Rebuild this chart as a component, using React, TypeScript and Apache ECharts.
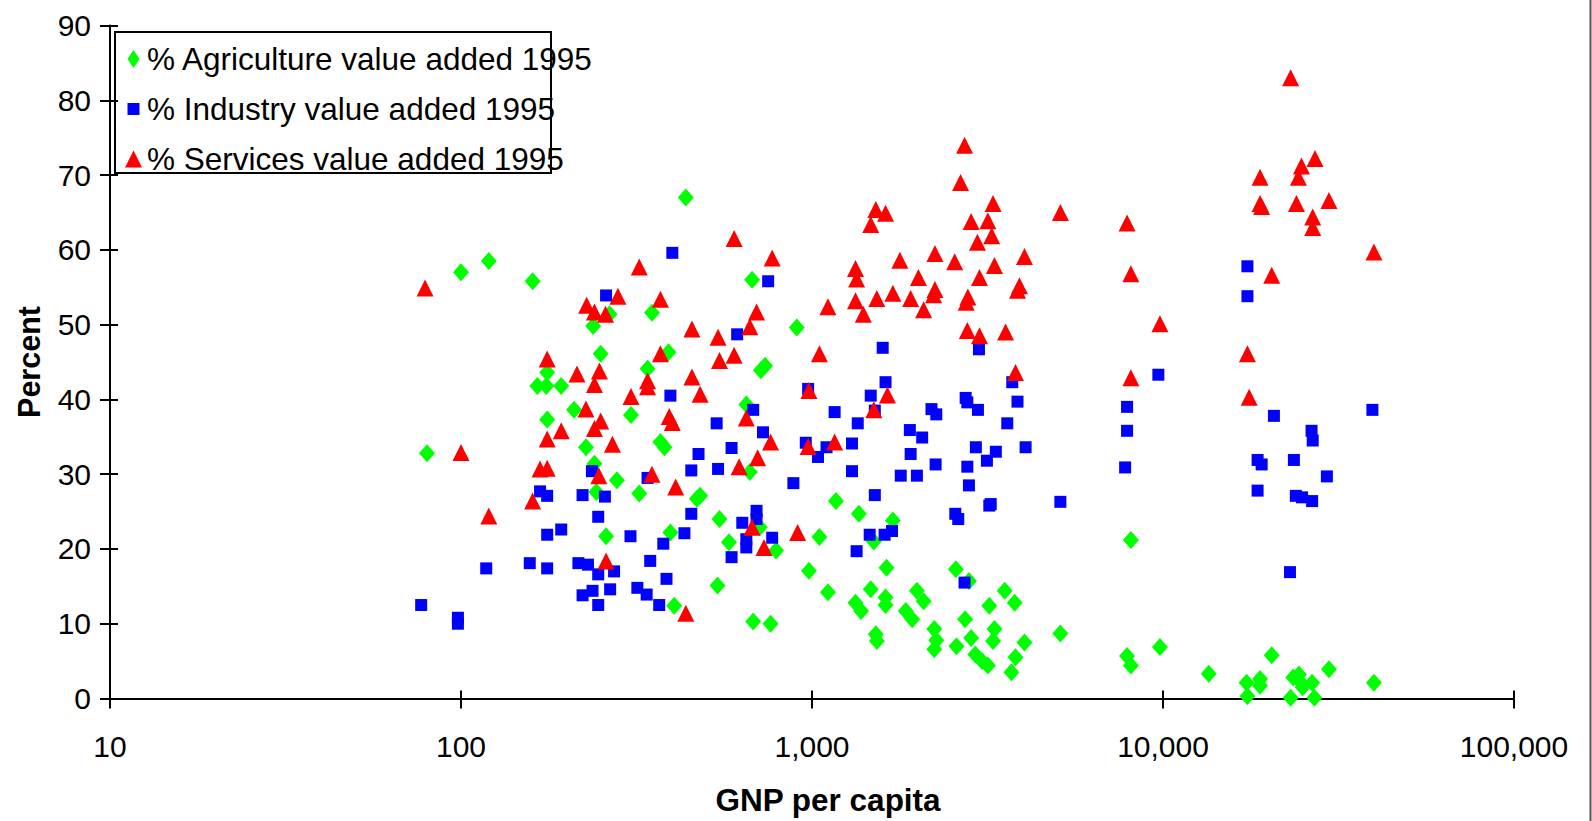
import React, { useEffect, useRef } from "react";
import * as echarts from "echarts";

const seriesNames = [
  "% Agriculture value added 1995",
  "% Industry value added 1995",
  "% Services value added 1995",
];
const xAxisTitle = "GNP per capita";
const yAxisTitle = "Percent";

// [GNP per capita (US$), percent of GDP]
const agriculture: [number, number][] = [
  [80, 32.8], [100, 57], [120, 58.5], [160, 55.8], [165, 41.8], [175, 41.8], [176, 43.6], [176, 37.3],
  [193, 41.8], [210, 38.6], [227, 33.6], [238, 49.8], [240, 31.4], [243, 27.6], [250, 46.1], [259, 21.7],
  [265, 51.4], [278, 29.2], [305, 37.9], [322, 27.4], [340, 44.1], [350, 51.6], [370, 34.3], [380, 33.6],
  [390, 46.3], [395, 22.2], [405, 12.4], [437, 67], [470, 26.7], [480, 27.1], [538, 15.1], [545, 24],
  [580, 20.9], [650, 39.3], [665, 30.3], [675, 56], [680, 10.3], [710, 22.9], [715, 43.9], [735, 44.5],
  [762, 10], [790, 19.8], [905, 49.6], [980, 17.1], [1050, 21.6], [1110, 14.2], [1170, 26.4], [1330, 12.8],
  [1360, 24.7], [1380, 11.7], [1470, 14.6], [1500, 21], [1520, 8.6], [1530, 7.7], [1620, 13.5], [1620, 12.5],
  [1630, 17.5], [1700, 23.8], [1850, 11.7], [1930, 10.6], [1990, 14.4], [2080, 13], [2230, 9.3], [2260, 7.8],
  [2230, 6.6], [2570, 17.3], [2580, 7], [2730, 10.6], [2800, 15.7], [2840, 8.1], [2920, 5.9], [3050, 5],
  [3170, 4.4], [3200, 12.4], [3280, 7.7], [3310, 9.3], [3540, 14.4], [3700, 3.5], [3780, 12.8], [3800, 5.5],
  [4030, 7.5], [5100, 8.7], [7900, 5.7], [8100, 4.4], [8100, 21.2], [9800, 6.9], [13500, 3.3], [17300, 2.1],
  [17400, 0.3], [18900, 2.6], [18900, 1.7], [20400, 5.8], [23100, 0.1], [23500, 2.8], [24400, 3.2], [24700, 2.1],
  [25000, 1.5], [26600, 2.1], [27000, 0.1], [29700, 3.9], [39900, 2.1],
];

const industry: [number, number][] = [
  [77, 12.5], [98, 10.8], [98, 10.0], [118, 17.4], [157, 18.1], [168, 27.7], [176, 27.1], [176, 21.9],
  [176, 17.4], [193, 22.6], [216, 18.1], [222, 27.2], [222, 13.8], [230, 17.9], [236, 30.4], [237, 14.4],
  [246, 24.3], [246, 12.5], [246, 16.6], [257, 27], [259, 53.9], [266, 14.6], [273, 17], [304, 21.7],
  [318, 14.8], [338, 13.9], [340, 29.5], [346, 18.4], [367, 12.5], [377, 20.7], [385, 16], [395, 40.5],
  [400, 59.6], [433, 22.1], [453, 24.7], [453, 30.5], [475, 32.7], [535, 36.8], [540, 30.7], [590, 33.5],
  [590, 18.9], [612, 48.7], [633, 23.5], [650, 20.2], [650, 21.3], [680, 38.6], [695, 25.1], [695, 24],
  [725, 35.6], [750, 55.8], [770, 21.5], [885, 28.8], [960, 34.2], [975, 41.4], [1040, 32.3], [1100, 33.6],
  [1160, 38.3], [1300, 34.1], [1300, 30.4], [1340, 19.7], [1350, 36.8], [1460, 21.9], [1470, 40.5], [1510, 38.5],
  [1510, 27.2], [1590, 46.9], [1610, 21.9], [1620, 42.3], [1690, 22.4], [1790, 29.8], [1900, 35.9], [1910, 32.7],
  [1990, 29.8], [2060, 34.9], [2190, 38.7], [2250, 31.3], [2260, 38], [2560, 24.7], [2610, 24], [2720, 15.5],
  [2740, 40.2], [2770, 39.6], [2770, 31], [2800, 28.5], [2930, 33.6], [2970, 38.6], [2990, 46.7], [3150, 31.8],
  [3200, 25.8], [3230, 26], [3340, 33], [3600, 36.8], [3720, 42.3], [3850, 39.7], [4060, 33.6], [5100, 26.3],
  [7800, 30.9], [7900, 35.8], [7900, 39], [9700, 43.3], [17400, 53.8], [17400, 57.8], [18600, 27.8], [18600, 31.9],
  [19100, 31.3], [20700, 37.8], [23000, 16.9], [23600, 31.9], [23900, 27.1], [24900, 26.9], [26500, 35.8], [26600, 26.4],
  [26700, 34.5], [29300, 29.7], [39500, 38.6],
];

const services: [number, number][] = [
  [79, 54.9], [100, 32.9], [120, 24.4], [160, 26.4], [168, 30.7], [176, 30.8], [176, 45.4], [176, 34.7],
  [193, 35.8], [214, 43.4], [227, 38.7], [228, 52.6], [240, 51.7], [240, 42], [240, 36.1], [247, 29.8],
  [248, 43.8], [250, 37.1], [258, 51.4], [259, 18.4], [270, 34], [280, 53.8], [305, 40.4], [322, 57.7],
  [340, 42.5], [340, 41.7], [350, 30], [370, 53.4], [370, 46.1], [392, 37.7], [400, 36.9], [409, 28.3],
  [437, 11.4], [455, 49.4], [455, 43], [480, 40.7], [540, 48.3], [545, 45.2], [600, 61.5], [600, 45.9],
  [620, 31], [650, 37.5], [665, 49.7], [675, 22.9], [695, 51.7], [700, 32.2], [730, 20.2], [762, 34.3],
  [770, 58.9], [910, 22.2], [975, 33.7], [980, 41.2], [1050, 46.1], [1110, 52.4], [1160, 34.3], [1330, 57.5],
  [1330, 53.2], [1340, 56.1], [1400, 51.4], [1470, 63.4], [1500, 38.6], [1520, 65.4], [1530, 53.5], [1620, 64.9],
  [1640, 40.6], [1700, 54.2], [1780, 58.6], [1910, 53.5], [2010, 56.3], [2080, 52], [2220, 54], [2240, 59.5],
  [2240, 54.7], [2550, 58.4], [2650, 69], [2720, 74], [2750, 53], [2770, 49.2], [2780, 53.7], [2840, 63.8],
  [2960, 61], [3000, 56.3], [3000, 48.5], [3170, 63.9], [3250, 61.9], [3280, 66.2], [3310, 57.9], [3560, 49],
  [3800, 43.6], [3850, 54.6], [3900, 55.2], [4030, 59.1], [5100, 65], [7900, 63.6], [8100, 56.8], [8100, 42.9],
  [9800, 50.1], [17400, 46.1], [17600, 40.3], [18900, 69.7], [18900, 66.2], [19100, 65.8], [20400, 56.6], [23100, 83],
  [24000, 66.2], [24300, 69.7], [24800, 71.2], [26700, 64.4], [26700, 63], [27100, 72.2], [29700, 66.6], [39900, 59.7],
];

const colors = ["#00FF00", "#0000FF", "#FF0000"];
const FONT = "'Liberation Sans', Arial, Helvetica, sans-serif";

const legendIcons = [
  "path://M0,9L0,9M17,9L17,9M8.5,0L14.5,9L8.5,18L2.5,9Z",
  "path://M0,0L0,0M17,18L17,18M2.5,3L14.5,3L14.5,15L2.5,15Z",
  "path://M0,0L0,0M17,18L17,18M8.5,0.5L17,17.5L0,17.5Z",
];

export default function App() {
  const ref = useRef<HTMLDivElement>(null);
  useEffect(() => {
    const chart = echarts.init(ref.current as HTMLDivElement, null, { renderer: "svg" });
    const tickStyle = { color: "#000", width: 2 };
    chart.setOption({
      animation: false,
      backgroundColor: "#fff",
      textStyle: { fontFamily: FONT },
      grid: { left: 110, right: 78, top: 25.5, bottom: 122.5 },
      legend: {
        orient: "vertical",
        left: 125,
        top: 43,
        padding: 0,
        itemWidth: 17,
        itemHeight: 18,
        itemGap: 18,
        selectedMode: false,
        textStyle: { fontSize: 31.5, lineHeight: 30, color: "#000", fontFamily: FONT },
        data: seriesNames.map((n, i) => ({ name: n, icon: legendIcons[i] })),
      },
      graphic: [
        {
          type: "rect",
          shape: { x: 115, y: 32, width: 436, height: 141 },
          style: { fill: "none", stroke: "#000", lineWidth: 2 },
          silent: true,
        },
        {
          type: "line",
          shape: { x1: 1590.5, y1: 0, x2: 1590.5, y2: 821 },
          style: { stroke: "#555", lineWidth: 2 },
          silent: true,
        },
      ],
      xAxis: [
        {
          type: "log",
          logBase: 10,
          min: 10,
          max: 100000,
          name: xAxisTitle,
          nameLocation: "middle",
          nameGap: 85,
          nameTextStyle: { fontSize: 31.5, fontWeight: "bold", color: "#000", fontFamily: FONT, padding: [0, 0, 0, 32] },
          axisLine: { show: true, lineStyle: { color: "#000", width: 2 } },
          axisTick: { show: true, inside: false, length: 10, lineStyle: tickStyle },
          axisLabel: {
            fontSize: 30,
            lineHeight: 30,
            color: "#000",
            margin: 33,
            fontFamily: FONT,
            formatter: (v: number) => Math.round(v).toLocaleString("en-US"),
          },
          splitLine: { show: false },
        },
        {
          type: "log",
          logBase: 10,
          min: 10,
          max: 100000,
          position: "bottom",
          axisLine: { show: false },
          axisTick: { show: true, inside: true, length: 8, lineStyle: tickStyle },
          axisLabel: { show: false },
          splitLine: { show: false },
        },
      ],
      yAxis: [
        {
          type: "value",
          min: 0,
          max: 90,
          interval: 10,
          name: yAxisTitle,
          nameLocation: "middle",
          nameRotate: 90,
          nameGap: 66,
          nameTextStyle: { fontSize: 30.5, fontWeight: "bold", color: "#000", fontFamily: FONT },
          axisLine: { show: true, lineStyle: { color: "#000", width: 2 } },
          axisTick: { show: true, inside: false, length: 10, lineStyle: tickStyle },
          axisLabel: { fontSize: 30, color: "#000", margin: 19, fontFamily: FONT },
          splitLine: { show: false },
        },
        {
          type: "value",
          min: 0,
          max: 90,
          interval: 10,
          position: "left",
          axisLine: { show: false },
          axisTick: { show: true, inside: true, length: 8, lineStyle: tickStyle },
          axisLabel: { show: false },
          splitLine: { show: false },
        },
      ],
      series: [
        {
          name: seriesNames[0],
          type: "scatter",
          xAxisIndex: 0,
          yAxisIndex: 0,
          symbol: "diamond",
          symbolSize: [16, 18],
          itemStyle: { color: colors[0], opacity: 1 },
          data: agriculture,
          silent: true,
        },
        {
          name: seriesNames[1],
          type: "scatter",
          xAxisIndex: 0,
          yAxisIndex: 0,
          symbol: "rect",
          symbolSize: 12,
          itemStyle: { color: colors[1], opacity: 1 },
          data: industry,
          silent: true,
        },
        {
          name: seriesNames[2],
          type: "scatter",
          xAxisIndex: 0,
          yAxisIndex: 0,
          symbol: "triangle",
          symbolSize: [17, 17],
          itemStyle: { color: colors[2], opacity: 1 },
          data: services,
          silent: true,
        },
      ],
    });
    return () => chart.dispose();
  }, []);
  return (
    <div
      ref={ref}
      style={{ position: "absolute", left: 0, top: 0, width: 1592, height: 821, background: "#fff" }}
    />
  );
}
